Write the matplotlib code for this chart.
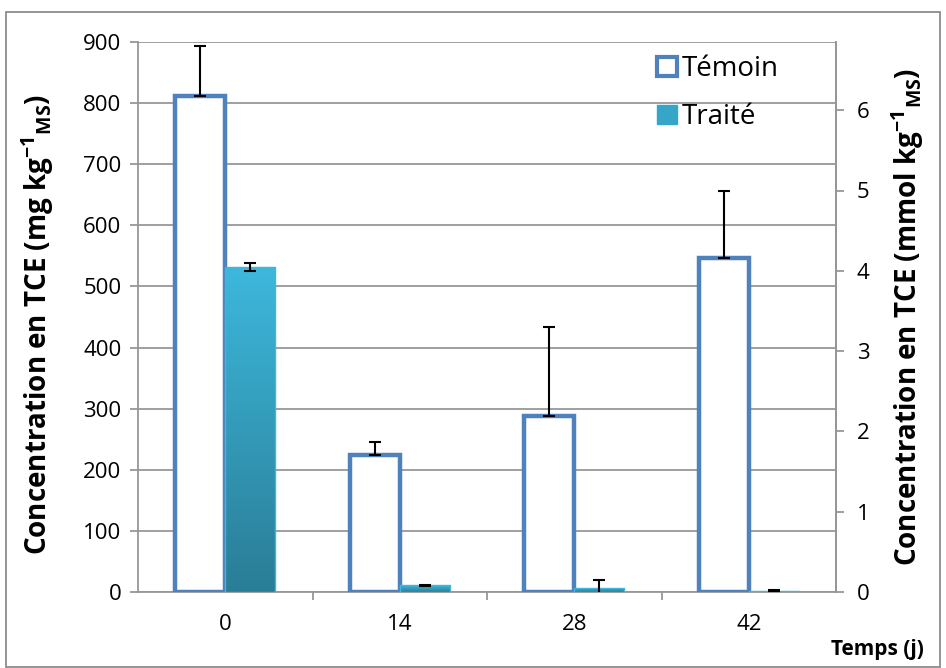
import matplotlib
matplotlib.use("Agg")
import matplotlib.pyplot as plt
import numpy as np
from matplotlib.patches import Rectangle
from matplotlib.colors import LinearSegmentedColormap

plt.rcParams['font.family'] = ['Open Sans', 'DejaVu Sans']
plt.rcParams['mathtext.fontset'] = 'custom'
plt.rcParams['mathtext.rm'] = 'Open Sans:bold'
plt.rcParams['mathtext.it'] = 'Open Sans:bold'
plt.rcParams['mathtext.bf'] = 'Open Sans:bold'
plt.rcParams['mathtext.default'] = 'rm'

categories = ['0', '14', '28', '42']
temoin = [811, 224, 288, 546]
temoin_err_up = [83, 21, 146, 110]
traite = [532, 11, 7, 2]
traite_err = [7, 1, 13, 1]
left_ticks = [0, 100, 200, 300, 400, 500, 600, 700, 800, 900]
right_ticks = [0, 1, 2, 3, 4, 5, 6]
molar_mass = 131.4

W, H = 946, 668
fig = plt.figure(figsize=(W / 100, H / 100), dpi=100)
ax = fig.add_axes([138 / W, 1 - 592 / H, (836 - 138) / W, (592 - 42) / H])

x = np.arange(len(categories))
bw = 0.287
grid_c = '#979797'

ax.set_xlim(-0.5, len(categories) - 0.5)
ax.set_ylim(0, 900)
ax.set_yticks(left_ticks)
ax.yaxis.grid(True, color=grid_c, linewidth=1.3)
ax.set_axisbelow(True)

# Témoin bars
ax.bar(x - bw / 2, temoin, width=bw, facecolor='white', edgecolor='#4F81BD',
       linewidth=3.2, zorder=3)
ax.errorbar(x - bw / 2, temoin, yerr=[[0] * 4, temoin_err_up], fmt='none',
            ecolor='black', elinewidth=1.5, capsize=4.5, capthick=1.5, zorder=5)

# Traité bars with vertical gradient
bars = ax.bar(x + bw / 2, traite, width=bw, facecolor='none', edgecolor='none',
              zorder=3)
grad = np.linspace(0, 1, 256).reshape(-1, 1)
cmap = LinearSegmentedColormap.from_list('t', ['#2A7D96', '#3DB8DC'])
for b in bars:
    bx, by = b.get_x(), b.get_y()
    bwid, bh = b.get_width(), b.get_height()
    im = ax.imshow(grad, extent=[bx, bx + bwid, 0, max(bh, 1e-6)], origin='lower',
                   cmap=cmap, aspect='auto', zorder=3)
    im.set_clip_path(b)
    ax.add_patch(Rectangle((bx, by), bwid, bh, facecolor='none',
                           edgecolor='#3DB8DC', linewidth=1.0, zorder=4))
ax.set_aspect('auto')
ax.set_xlim(-0.5, len(categories) - 0.5)
ax.set_ylim(0, 900)
ax.errorbar(x + bw / 2, traite, yerr=traite_err, fmt='none', ecolor='black',
            elinewidth=1.5, capsize=4.5, capthick=1.5, zorder=5)

# axes styling
ax.spines['top'].set_visible(False)
for s in ['left', 'right', 'bottom']:
    ax.spines[s].set_color(grid_c)
    ax.spines[s].set_linewidth(1.3)
ax.set_xticks(x)
ax.set_xticklabels(categories, fontsize=16)
ax.set_xticks(np.arange(0.5, len(categories) - 1, 1), minor=True)
ax.tick_params(axis='x', which='major', length=0, pad=16)
ax.tick_params(axis='x', which='minor', length=6, color=grid_c, width=1.3)
ax.tick_params(axis='y', length=6, color=grid_c, width=1.3, labelsize=16, pad=6)

ax.set_ylabel(r'Concentration en TCE (mg kg$^{-1}$$_{MS}$)', fontsize=20,
              fontweight='bold')
ax.yaxis.set_label_coords((56 - 138) / 698, 0.487)

ax2 = ax.twinx()
ax2.set_ylim(0, 900 / molar_mass)
ax2.set_yticks(right_ticks)
ax2.tick_params(axis='y', length=6, color=grid_c, width=1.3, labelsize=16, pad=9)
for s in ['top', 'left', 'bottom']:
    ax2.spines[s].set_visible(False)
ax2.spines['right'].set_color(grid_c)
ax2.spines['right'].set_linewidth(1.3)
ax2.set_ylabel(r'Concentration en TCE (mmol kg$^{-1}$$_{MS}$)', fontsize=20,
               fontweight='bold')
ax2.yaxis.set_label_coords((889 - 138) / 698, 0.5)

fig.text(877 / W, 1 - 650 / H, 'Temps (j)', fontsize=15, fontweight='bold',
         ha='center', va='center')

# legend
handles = [Rectangle((0, 0), 1, 1, facecolor='white', edgecolor='#4F81BD', linewidth=3),
           Rectangle((0, 0), 1, 1, facecolor='#35A6C8', edgecolor='#35A6C8')]
leg = ax.legend(handles, ['Témoin', 'Traité'], loc='upper left',
                bbox_to_anchor=(646 / W, 1 - 44 / H), bbox_transform=fig.transFigure,
                frameon=False, fontsize=20, handlelength=0.7, handleheight=0.7,
                handletextpad=0.2, labelspacing=0.72, borderaxespad=0)

# outer border
fig.patches.append(Rectangle((6 / W, 1 / H), 1 - 12 / W, 1 - 13 / H,
                             transform=fig.transFigure, fill=False,
                             edgecolor='#8c8c8c', linewidth=1.3))

fig.savefig('out.png', dpi=100)
